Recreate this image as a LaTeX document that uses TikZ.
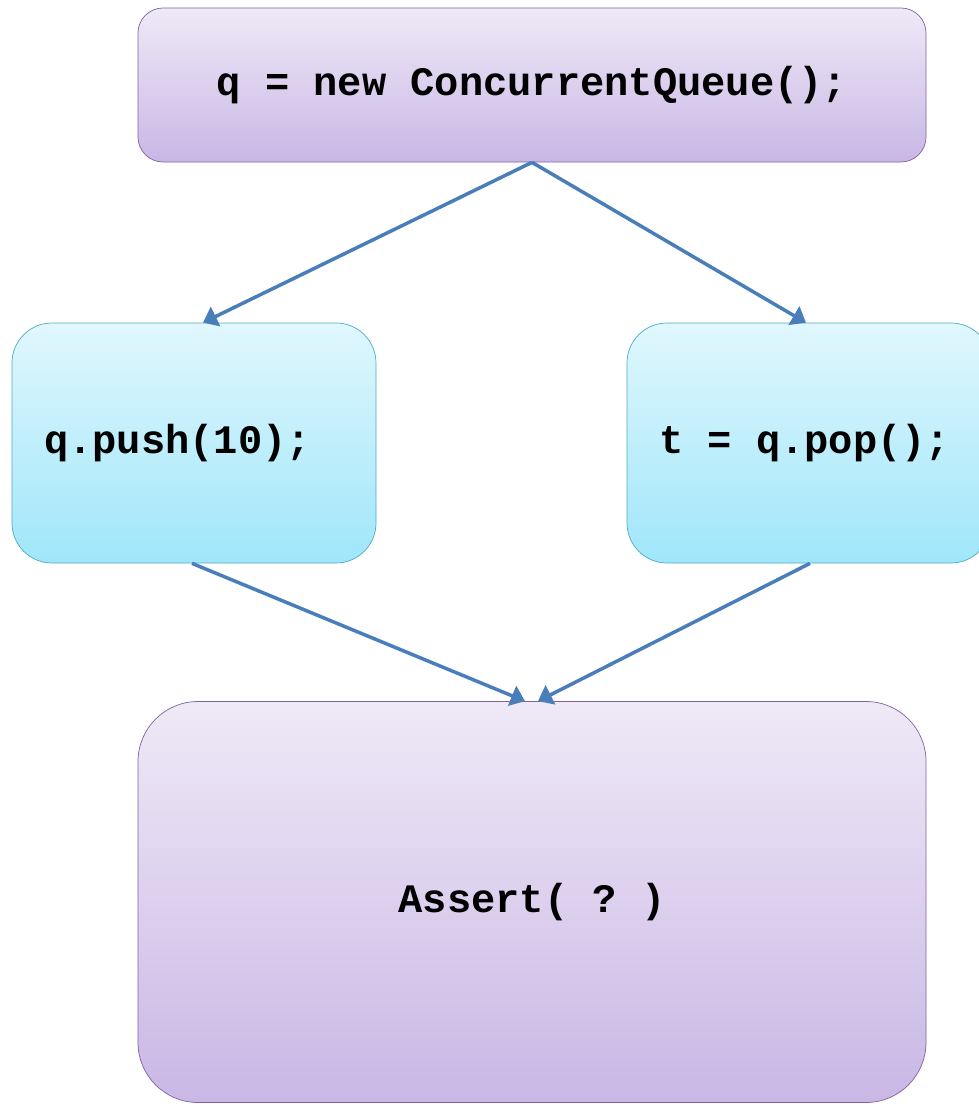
\documentclass[tikz,border=0pt]{standalone}
\usepackage{fontspec}
\setmonofont{Liberation Mono}
\usetikzlibrary{arrows.meta,positioning,calc}

\definecolor{lilactop}{RGB}{239,233,247}
\definecolor{lilacbot}{RGB}{201,183,229}
\definecolor{lilacline}{RGB}{128,100,162}
\definecolor{aquatop}{RGB}{224,247,253}
\definecolor{aquabot}{RGB}{160,230,250}
\definecolor{aqualine}{RGB}{75,172,198}
\definecolor{flow}{RGB}{74,126,187}

\begin{document}
\begin{tikzpicture}[>={Triangle[length=0.28cm,width=0.42cm]},
    every node/.style={font=\ttfamily\bfseries\fontsize{23}{27}\selectfont},
    lilac/.style={draw=lilacline,thin,top color=lilactop,bottom color=lilacbot,align=center},
    aqua/.style={draw=aqualine,thin,top color=aquatop,bottom color=aquabot,rounded corners=0.8cm,
      inner xsep=0.64cm,text width=6.0cm,align=flush left,minimum width=7.28cm,minimum height=4.8cm},
    flowline/.style={->,flow,line width=0.07cm}]
    \useasboundingbox (0,0) rectangle (19.56,-22.08);
    \node[lilac,rounded corners=0.5cm,minimum width=15.76cm,minimum height=3.08cm] (init) at (10.64,-1.70) {q = new ConcurrentQueue();};
    \node[aqua] (push) at (3.88,-8.86) {q.push(10);};
    \node[aqua] (pop) at (16.18,-8.86) {t = q.pop();};
    \node[lilac,rounded corners=1.2cm,minimum width=15.76cm,minimum height=8.02cm] (check) at (10.64,-18.04) {Assert( ? )};
    \draw[flowline] (init.south)--($(push.north)+(0.18,0)$);
    \draw[flowline] (init.south)--($(pop.north)+(-0.06,0)$);
    \draw[flowline] ($(push.south)+(-0.04,0)$)--($(check.north)+(-0.14,0)$);
    \draw[flowline] ($(pop.south)+(0.02,0)$)--($(check.north)+(0.12,0)$);
  \end{tikzpicture}
\end{document}
